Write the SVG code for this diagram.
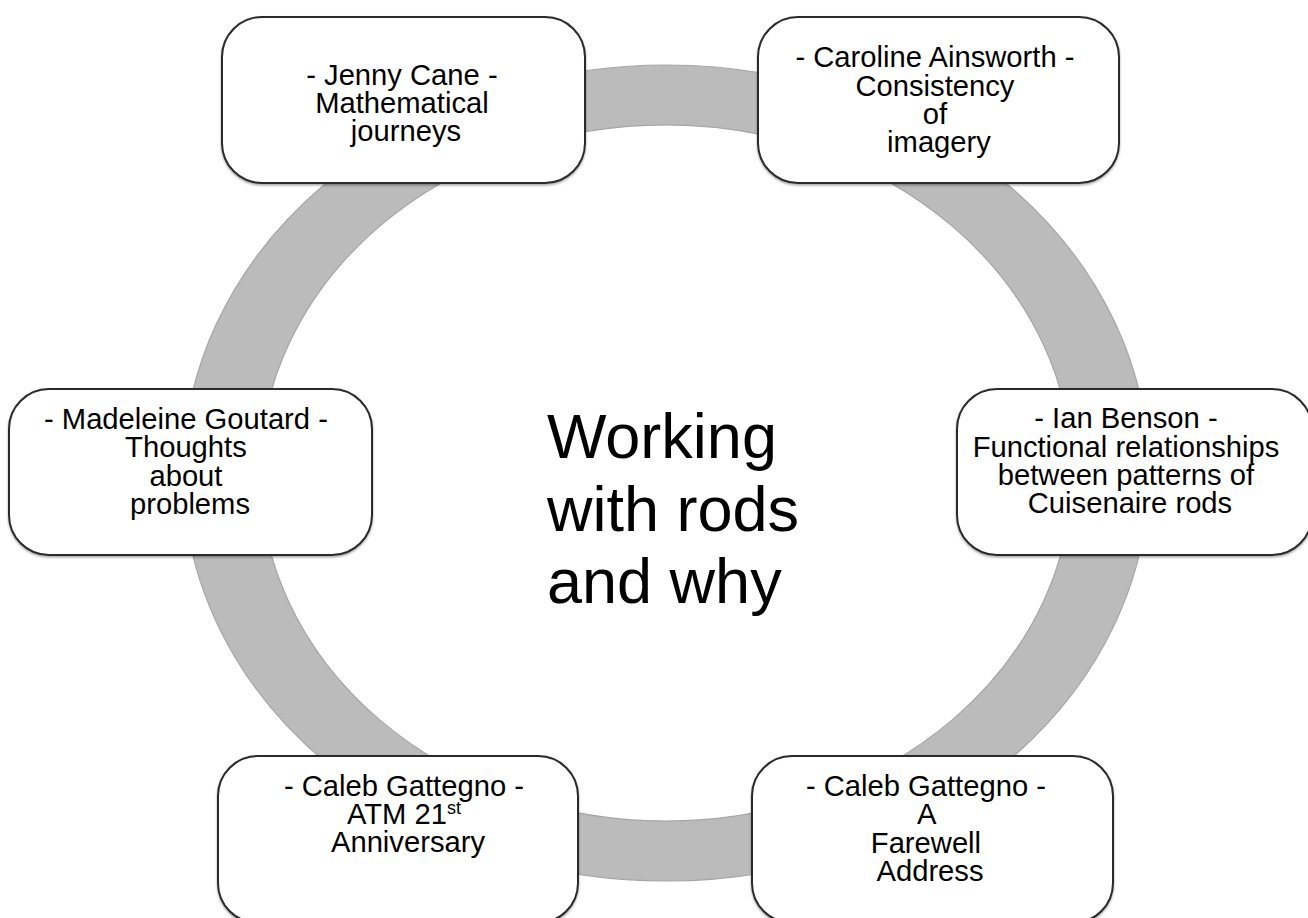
<svg xmlns="http://www.w3.org/2000/svg" width="1308" height="918" viewBox="0 0 1308 918">
  <defs>
    <filter id="sh" x="-5%" y="-5%" width="110%" height="115%">
      <feDropShadow dx="0" dy="1.5" stdDeviation="1.2" flood-color="#000" flood-opacity="0.35"/>
    </filter>
  </defs>
  <style>
    .box { fill: #ffffff; stroke: #2a2a2a; stroke-width: 2; filter: url(#sh); }
    .lbl { font-family: "Liberation Sans", Arial, sans-serif; font-size: 29.2px; fill: #000; text-anchor: middle; }
    .sup { font-size: 18px; }
    .title { font-family: "Liberation Sans", Arial, sans-serif; font-size: 63px; fill: #000; }
    .ring { fill: #bbbbbb; fill-rule: evenodd; stroke: #a6a6a6; stroke-width: 1.2; }
  </style>
  <rect width="1308" height="918" fill="#ffffff"/>

  <g id="connectors">
    <path class="ring" d="M 183 473 A 483 408 0 1 0 1149 473 A 483 408 0 1 0 183 473 Z M 260 473 A 406 348 0 1 0 1072 473 A 406 348 0 1 0 260 473 Z"/>
  </g>

  <g id="title">
    <text class="title">
      <tspan x="547" y="458">Working</tspan>
      <tspan x="547" y="531">with rods</tspan>
      <tspan x="547" y="603">and why</tspan>
    </text>
  </g>

  <g id="node-jenny">
    <rect class="box" x="222" y="17" width="363" height="166" rx="40" ry="40"/>
    <text class="lbl">
      <tspan x="406" y="85">- Jenny Cane -</tspan>
      <tspan x="406" y="113">Mathematical</tspan>
      <tspan x="406" y="141">journeys</tspan>
    </text>
  </g>

  <g id="node-caroline">
    <rect class="box" x="758" y="17" width="361" height="166" rx="40" ry="40"/>
    <text class="lbl">
      <tspan x="939" y="67">- Caroline Ainsworth -</tspan>
      <tspan x="939" y="96">Consistency</tspan>
      <tspan x="939" y="124">of</tspan>
      <tspan x="939" y="152">imagery</tspan>
    </text>
  </g>

  <g id="node-madeleine">
    <rect class="box" x="9" y="389" width="363" height="166" rx="40" ry="40"/>
    <text class="lbl">
      <tspan x="190" y="429">- Madeleine Goutard -</tspan>
      <tspan x="190" y="457">Thoughts</tspan>
      <tspan x="190" y="486">about</tspan>
      <tspan x="190" y="514">problems</tspan>
    </text>
  </g>

  <g id="node-ian">
    <rect class="box" x="957" y="389" width="355" height="166" rx="40" ry="40"/>
    <text class="lbl">
      <tspan x="1130" y="428">- Ian Benson -</tspan>
      <tspan x="1130" y="457">Functional relationships</tspan>
      <tspan x="1130" y="485">between patterns of</tspan>
      <tspan x="1130" y="513">Cuisenaire rods</tspan>
    </text>
  </g>

  <g id="node-caleb-atm">
    <rect class="box" x="218" y="756" width="360" height="167" rx="40" ry="40"/>
    <text class="lbl">
      <tspan x="408" y="796">- Caleb Gattegno -</tspan>
      <tspan x="408" y="824">ATM 21<tspan class="sup" dy="-10">st</tspan></tspan>
      <tspan x="408" y="852">Anniversary</tspan>
    </text>
  </g>

  <g id="node-caleb-farewell">
    <rect class="box" x="752" y="756" width="361" height="167" rx="40" ry="40"/>
    <text class="lbl">
      <tspan x="930" y="796">- Caleb Gattegno -</tspan>
      <tspan x="930" y="824">A</tspan>
      <tspan x="930" y="853">Farewell</tspan>
      <tspan x="930" y="881">Address</tspan>
    </text>
  </g>
</svg>
